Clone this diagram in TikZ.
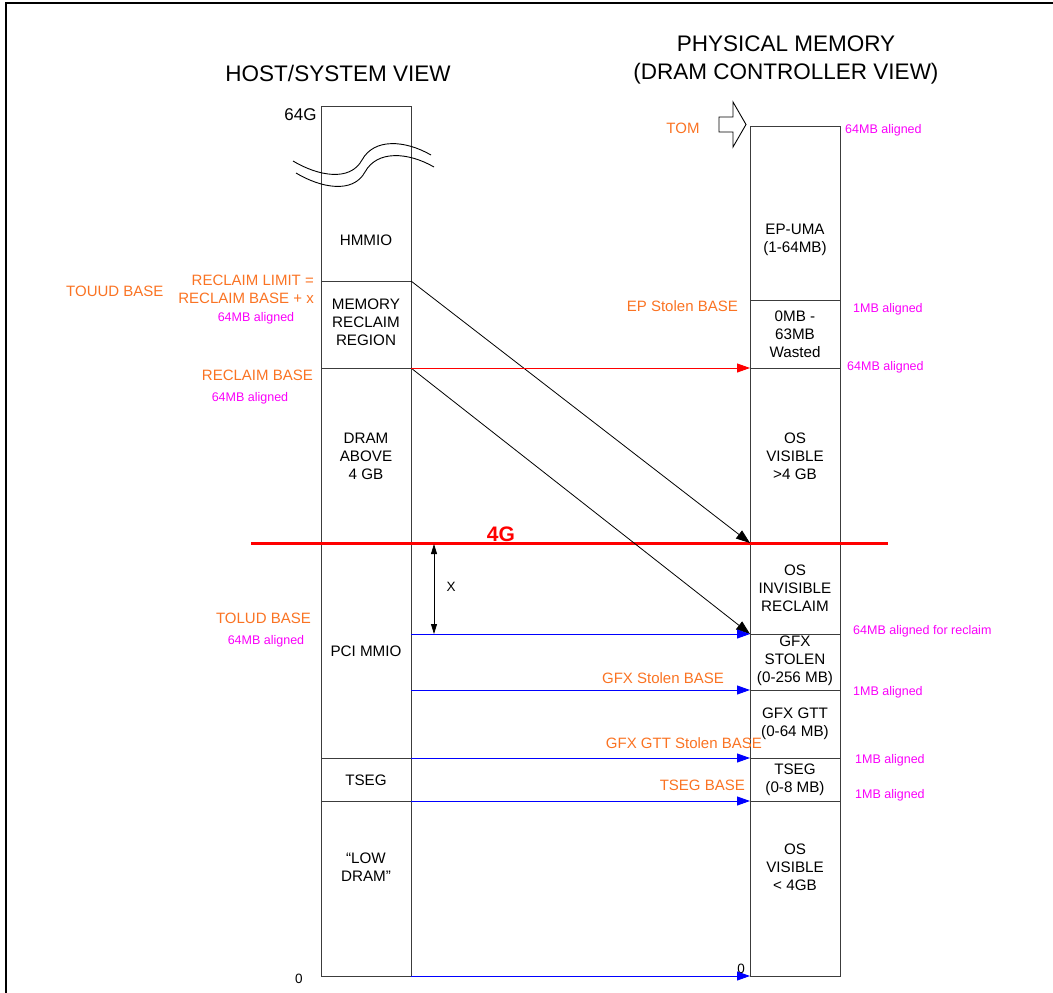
\documentclass[tikz,border=0pt]{standalone}
\usepackage{fontspec}
\setmainfont{Liberation Sans}
\usetikzlibrary{arrows.meta}
\definecolor{lblorange}{RGB}{250,115,35}
\definecolor{lblmag}{RGB}{250,0,250}
\definecolor{boxgray}{RGB}{60,60,60}
\begin{document}
\begin{tikzpicture}[x=1pt,y=-1pt,
  boxline/.style={draw=boxgray, line width=0.9pt},
  boxtxt/.style={align=center, font=\fontsize{15.2}{18}\selectfont, inner sep=0pt},
  head/.style={align=center, font=\fontsize{22.5}{28}\selectfont, inner sep=0pt},
  lbl/.style={text=lblorange, font=\fontsize{15}{17.5}\selectfont, inner sep=0pt},
  mag/.style={text=lblmag, font=\fontsize{12.5}{14}\selectfont, inner sep=0pt},
  blkarr/.style={black, line width=0.8pt, -{Triangle[length=14pt,width=10pt]}},
  bluearr/.style={blue, line width=0.9pt, -{Triangle[length=13pt,width=9pt]}},
  redarr/.style={red, line width=0.9pt, -{Triangle[length=13pt,width=9pt]}},
  dimarr/.style={black, line width=0.8pt, {Triangle[length=10pt,width=6pt]}-{Triangle[length=10pt,width=6pt]}}
]
\useasboundingbox (0,0) rectangle (1053,993);
% frame
\draw[line width=2pt] (5,3) -- (1053,3);
\draw[line width=2pt] (6,3) -- (6,993);

% headers
\node[head] (hhost) at (338,73) {HOST/SYSTEM VIEW};
\node[head] (hphys) at (786,60) {PHYSICAL MEMORY\\(DRAM CONTROLLER VIEW)};

% left column
\draw[boxline] (321,106) rectangle (411,976);
\foreach \y in {281,368,758,801} \draw[boxline] (321,\y) -- (411,\y);
% right column
\draw[boxline] (750,126) rectangle (840,976);
\foreach \y in {300,368,634,690,758,801} \draw[boxline] (750,\y) -- (840,\y);

% coordinates
\coordinate (L281) at (411,281);
\coordinate (L368) at (411,368);
\coordinate (L634) at (411,634);
\coordinate (L690) at (411,690);
\coordinate (L758) at (411,758);
\coordinate (L801) at (411,801);
\coordinate (L976) at (411,976);
\coordinate (R368) at (750,368);
\coordinate (R543) at (750,543);
\coordinate (R634) at (750,634);
\coordinate (R690) at (750,690);
\coordinate (R758) at (750,758);
\coordinate (R801) at (750,801);
\coordinate (R976) at (750,976);
\coordinate (G1) at (251,543);
\coordinate (G2) at (888,543);
\coordinate (X1) at (434,544);
\coordinate (X2) at (434,634);

% wavy break
\draw[line width=0.9pt] (293,161) .. controls (318,176) and (350,182) .. (362,160)
  .. controls (374,138) and (405,140) .. (431,155);
\draw[line width=0.9pt] (296,173) .. controls (321,188) and (353,194) .. (365,172)
  .. controls (377,150) and (408,152) .. (434,167);

% left texts
\node[boxtxt, font=\fontsize{17}{20}\selectfont] (t64g) at (300.5,115) {64G};
\node[boxtxt] (hmmio) at (366,240) {HMMIO};
\node[boxtxt] (mrr) at (366,322) {MEMORY\\RECLAIM\\REGION};
\node[boxtxt] (dram4) at (366,456) {DRAM\\ABOVE\\4 GB};
\node[boxtxt] (pci) at (366,651) {PCI MMIO};
\node[boxtxt] (tsegl) at (366,780) {TSEG};
\node[boxtxt] (lowd) at (366,867) {“LOW\\DRAM”};
\node[boxtxt, font=\fontsize{13.5}{15}\selectfont] (zl) at (299,979) {0};

% right texts
\node[boxtxt] (epuma) at (795,240) {EP-UMA\\(1-64MB)};
\node[boxtxt] (wasted) at (795,334) {0MB -\\63MB\\Wasted};
\node[boxtxt] (osv4) at (795,456) {OS\\VISIBLE\\>4 GB};
\node[boxtxt] (osinv) at (795,588) {OS\\INVISIBLE\\RECLAIM};
\node[boxtxt] (gfxs) at (795,661) {GFX\\STOLEN\\(0-256 MB)};
\node[boxtxt] (gtt) at (795,724) {GFX GTT\\(0-64 MB)};
\node[boxtxt] (tsegr) at (795,780) {TSEG\\(0-8 MB)};
\node[boxtxt] (osvl) at (795,867) {OS\\VISIBLE\\< 4GB};
\node[boxtxt, font=\fontsize{13.5}{15}\selectfont] (zr) at (741,969) {0};

% TOM
\draw[line width=0.9pt, fill=white] (719,117) -- (733,117) -- (733,102) -- (746,124.5) -- (733,147) -- (733,132) -- (719,132) -- cycle;
\node[lbl] (tom) at (683,128) {TOM};
\node[mag, anchor=west] (m1) at (845,130) {64MB aligned};

% left labels
\node[lbl, anchor=west] (touud) at (66,291) {TOUUD BASE};
\node[lbl, anchor=east, align=right] (rlim) at (314,289.5) {RECLAIM LIMIT =\\RECLAIM BASE + x};
\node[mag] (m2) at (256,318) {64MB aligned};
\node[lbl, anchor=east] (rbase) at (313,375) {RECLAIM BASE};
\node[mag] (m3) at (250,398) {64MB aligned};
\node[lbl, anchor=east] (tolud) at (311,618) {TOLUD BASE};
\node[mag] (m4) at (266,641) {64MB aligned};

% right labels
\node[lbl, anchor=east] (epsb) at (738,306) {EP Stolen BASE};
\node[mag, anchor=west] (m5) at (853,309) {1MB aligned};
\node[mag, anchor=west] (m6) at (847,367) {64MB aligned};
\node[mag, anchor=west] (m7) at (853,631) {64MB aligned for reclaim};
\node[lbl, anchor=east] (gfxsb) at (724,678) {GFX Stolen BASE};
\node[mag, anchor=west] (m8) at (853,692) {1MB aligned};
\node[lbl, anchor=east] (gttsb) at (762,743) {GFX GTT Stolen BASE};
\node[mag, anchor=west] (m9) at (855,760) {1MB aligned};
\node[lbl, anchor=east] (tsegb) at (745,785) {TSEG BASE};
\node[mag, anchor=west] (m10) at (855,795) {1MB aligned};

% 4G line
\draw[red, line width=3pt] (G1) -- (G2);
\node[text=red, font=\bfseries\fontsize{21}{24}\selectfont, inner sep=0pt] (g4) at (501,534) {4G};

% arrows
\draw[blkarr] (L281) -- (R543);
\draw[blkarr] (L368) -- (R634);
\draw[redarr] (L368) -- (R368);
\draw[bluearr] (L634) -- (R634);
\draw[bluearr] (L690) -- (R690);
\draw[bluearr] (L758) -- (R758);
\draw[bluearr] (L801) -- (R801);
\draw[bluearr] (L976) -- (R976);
\draw[dimarr] (X1) -- (X2);
\node[boxtxt, font=\fontsize{13.5}{15}\selectfont] (xl) at (451,587) {X};
\end{tikzpicture}
\end{document}
